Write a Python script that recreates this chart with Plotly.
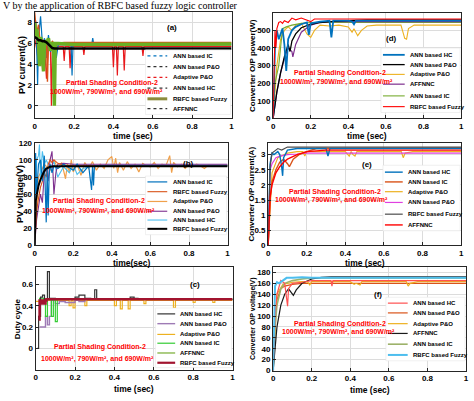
import plotly.graph_objects as go

W, H = 474, 401

# ---------------- DATA ----------------
TIME_TICKS = [0, 0.2, 0.4, 0.6, 0.8, 1]
TIME_TICK_LABELS = ["0", "0.2", "0.4", "0.6", "0.8", "1"]

# (a) PV current (A)
A_HC_T = [0, 0.02, 0.04, 0.06, 0.08, 0.1, 1.0]
A_HC = [7.5, 6.0, 5.2, 5.8, 5.6, 5.75, 5.75]
A_ADP_T = [0, 0.01, 0.02, 0.03, 0.04, 0.05, 0.06, 0.07, 0.08, 0.085, 0.09, 0.1, 0.145, 0.15, 0.155,
           0.175, 0.18, 0.185, 0.245, 0.25, 0.255, 0.395, 0.4, 0.405, 0.415, 0.42, 0.425, 0.45, 0.455,
           0.46, 0.545, 0.55, 0.555, 1.0]
A_ADP = [6.5, 5.5, 4.0, 6.2, 3.5, 5.8, 2.6, 5.7, 5.8, 0.0, 5.7, 5.7, 5.7, 4.3, 5.7,
         5.7, 3.6, 5.7, 5.7, 4.9, 5.7, 5.7, 3.7, 5.7, 5.7, 2.9, 5.7, 5.7, 3.4,
         5.7, 5.7, 4.8, 5.7, 5.7]
A_IC_T = [0, 0.005, 0.01, 0.015, 0.02, 0.03, 0.04, 0.05, 0.06, 0.07, 0.08, 0.1, 0.11, 0.12, 0.185,
          0.19, 0.195, 0.29, 0.295, 0.3, 0.4, 0.6, 0.8, 1.0]
A_IC = [7.0, 8.2, 6.0, 2.0, 6.6, 8.6, 5.8, 6.5, 4.6, 6.8, 5.2, 6.0, 4.6, 5.9, 5.9,
        2.9, 5.9, 5.9, 6.5, 5.9, 5.9, 5.9, 5.9, 5.9]
A_PO_T = [0, 0.01, 0.02, 0.03, 0.04, 0.05, 0.06, 0.065, 0.07, 0.08, 0.09, 0.1, 0.15, 0.3, 0.6, 1.0]
A_PO = [9.0, 7.0, 7.8, 5.5, 6.4, 5.9, 6.2, 2.3, 6.3, 5.9, 6.2, 6.0, 6.1, 6.1, 6.1, 6.1]
A_FZ_T = [0, 0.005, 0.01, 0.02, 0.025, 0.03, 0.04, 0.045, 0.05, 0.06, 0.07, 0.08, 0.09, 0.095,
          0.1, 0.105, 0.12, 0.2, 0.4, 0.55, 0.6, 1.0]
A_FZ = [8.0, 6.6, 7.4, 5.8, 3.8, 6.6, 5.6, 3.3, 6.3, 5.9, 6.5, 5.3, 6.0, 6.0,
        0.0, 6.0, 6.0, 5.9, 5.9, 5.9, 5.95, 5.95]
A_AF_T = [0, 0.01, 0.02, 0.03, 0.04, 0.05, 0.06, 0.07, 0.08, 0.09, 0.1, 1.0]
A_AF = [6.6, 6.5, 6.3, 6.3, 6.2, 6.2, 6.1, 5.9, 5.7, 5.55, 5.5, 5.5]
A_NAMES = ["ANN based IC", "ANN based P&O", "Adaptive P&O", "ANN based HC", "RBFC based Fuzzy", "AFFNNC"]

# (b) PV voltage (V)
B_ADP_T = [0, 0.02, 0.05, 0.08, 0.1, 0.12, 0.14, 0.16, 0.17, 0.18, 0.19, 0.2, 0.22, 0.24, 0.26, 0.28,
           0.3, 0.32, 0.34, 0.36, 0.38, 0.4, 0.41, 0.42, 0.43, 0.44, 0.46, 0.48, 0.5, 0.52, 0.54, 0.56,
           0.58, 0.6, 0.62, 0.64, 0.66, 0.68, 0.7, 0.71, 0.72, 0.74, 0.76, 0.78, 0.8, 0.82, 0.84, 0.86,
           0.88, 0.9, 1.0]
B_ADP = [0, 80, 95, 88, 100, 90, 97, 78, 95, 85, 100, 86, 95, 82, 97, 90,
         98, 88, 95, 90, 100, 104, 90, 102, 85, 97, 88, 98, 90, 95, 86, 96,
         93, 92, 97, 90, 95, 93, 105, 85, 97, 92, 95, 90, 94, 92, 95, 93,
         90, 94, 94]
B_IC_T = [0, 0.005, 0.01, 0.02, 0.03, 0.04, 0.05, 0.055, 0.06, 0.065, 0.07, 0.075, 0.08, 0.09, 0.1,
          0.12, 0.15, 0.2, 0.22, 0.25, 0.28, 0.295, 0.3, 0.305, 0.31, 0.35, 0.5, 1.0]
B_IC = [0, 108, 60, 95, 100, 75, 105, 60, 27, 90, 35, 80, 95, 85, 93,
        90, 95, 88, 95, 85, 93, 65, 93, 70, 93, 93, 93, 93]
B_HC_T = [0, 0.01, 0.02, 0.025, 0.03, 0.04, 0.05, 0.06, 0.08, 0.1, 0.12, 0.15, 0.18, 0.2, 0.22,
          0.25, 0.3, 0.4, 1.0]
B_HC = [0, 100, 105, 118, 80, 110, 95, 100, 90, 98, 80, 92, 85, 95, 83, 90, 93, 94, 94]
B_FZR_T = [0, 0.005, 0.01, 0.02, 0.03, 0.04, 0.05, 0.06, 0.07, 0.08, 0.09, 0.1, 0.12, 0.15, 0.2, 1.0]
B_FZR = [0, 30, 40, 55, 68, 75, 85, 80, 95, 100, 97, 100, 96, 94, 93, 93]
B_PO_T = [0, 0.01, 0.02, 0.03, 0.04, 0.05, 0.06, 0.07, 0.08, 0.09, 0.1, 0.11, 0.12, 0.15, 0.2, 0.3, 1.0]
B_PO = [0, 30, 45, 60, 50, 85, 90, 75, 100, 110, 60, 85, 95, 96, 95, 95, 95]
B_FZK_T = [0, 0.003, 0.006, 0.01, 0.015, 0.02, 0.03, 0.04, 0.05, 0.06, 0.08, 0.1, 0.15, 1.0]
B_FZK = [0, 40, 52, 58, 64, 70, 77, 83, 87, 90, 92, 92.5, 92.5, 92.5]
B_NAMES = ["ANN based IC", "RBFC based Fuzzy", "Adaptive P&O", "ANN based P&O", "ANN based HC", "RBFC based Fuzzy"]

# (c) Duty cycle
C_HC_T = [0.008, 0.015, 0.025, 0.035, 0.045, 0.06, 0.07, 0.08, 0.1, 0.2, 0.22, 0.25, 0.28, 0.3, 0.31,
          0.32, 0.48, 0.5, 0.52, 1.0]
C_HC = [0.0, 0.3, 0.48, 0.50, 0.46, 0.72, 0.47, 0.47, 0.46, 0.48, 0.50, 0.47, 0.46, 0.55, 0.46,
        0.46, 0.48, 0.47, 0.46, 0.46]
C_PO_T = [0.02, 0.03, 0.05, 0.06, 0.07, 0.08, 0.1, 0.12, 0.15, 0.2, 0.22, 0.25, 0.3, 1.0]
C_PO = [0.2, 0.2, 0.3, 0.22, 0.3, 0.45, 0.42, 0.44, 0.43, 0.45, 0.44, 0.46, 0.46, 0.46]
C_ADP_T = [0, 0.02, 0.1, 0.17, 0.18, 0.19, 0.2, 0.25, 0.26, 0.4, 0.41, 0.43, 0.44, 0.47, 0.48, 0.55,
           0.56, 0.7, 0.71, 0.8, 0.81, 0.9, 0.91, 1.0]
C_ADP = [0.44, 0.45, 0.45, 0.40, 0.45, 0.38, 0.45, 0.40, 0.45, 0.40, 0.45, 0.37, 0.45, 0.37, 0.45,
         0.42, 0.45, 0.38, 0.45, 0.43, 0.45, 0.43, 0.45, 0.45]
C_IC_T = [0.015, 0.02, 0.04, 0.05, 0.06, 0.08, 0.09, 0.1, 0.11, 0.12, 1.0]
C_IC = [0.3, 0.47, 0.46, 0.3, 0.46, 0.3, 0.46, 0.25, 0.46, 0.46, 0.46]
C_AF_T = [0.02, 0.05, 0.1, 1.0]
C_AF = [0.45, 0.46, 0.46, 0.46]
C_FZ_T = [0.015, 0.02, 0.025, 0.03, 0.035, 0.04, 0.045, 0.05, 0.055, 1.0]
C_FZ = [0.27, 0.45, 0.42, 0.45, 0.42, 0.45, 0.42, 0.45, 0.46, 0.46]
C_NAMES = ["ANN based HC", "ANN based P&O", "Adaptive P&O", "ANN based IC", "AFFNNC", "RBFC based Fuzzy"]

# (d) Converter O/P power (W)
D_HC_T = [0, 0.01, 0.02, 0.03, 0.05, 0.06, 0.07, 0.08, 0.1, 0.12, 0.15, 0.18, 0.19, 0.2, 0.25, 0.3,
          0.31, 0.32, 0.4, 0.42, 0.43, 0.44, 0.6, 1.0]
D_HC = [0, 400, 500, 450, 510, 420, 270, 450, 500, 520, 535, 545, 475, 540, 550, 555,
        460, 555, 555, 550, 535, 555, 555, 555]
D_PO_T = [0, 0.02, 0.04, 0.06, 0.08, 0.09, 0.1, 0.12, 0.15, 0.2, 0.25, 0.3, 0.4, 0.5, 1.0]
D_PO = [0, 150, 260, 350, 420, 380, 440, 480, 515, 535, 545, 550, 555, 560, 560]
D_ADP_T = [0, 0.02, 0.04, 0.06, 0.08, 0.1, 0.12, 0.15, 0.18, 0.2, 0.22, 0.25, 0.3, 0.35, 0.4, 0.42,
           0.43, 0.45, 0.47, 0.5, 0.55, 0.6, 0.68, 0.7, 0.71, 0.72, 0.75, 0.8, 1.0]
D_ADP = [0, 300, 450, 500, 520, 500, 530, 540, 480, 460, 500, 530, 525, 530, 520, 490,
         510, 470, 500, 525, 530, 530, 530, 455, 450, 510, 530, 530, 530]
D_AF_T = [0, 0.02, 0.04, 0.06, 0.08, 0.1, 0.105, 0.12, 0.15, 0.2, 0.25, 0.3, 1.0]
D_AF = [0, 150, 260, 340, 400, 380, 350, 420, 490, 530, 545, 550, 550]
D_IC_T = [0, 0.01, 0.03, 0.05, 0.07, 0.1, 0.15, 0.2, 1.0]
D_IC = [0, 200, 300, 510, 520, 530, 540, 545, 545]
D_FZ_T = [0, 0.005, 0.01, 0.015, 0.02, 0.03, 0.04, 0.05, 0.06, 0.08, 0.1, 0.12, 0.15, 0.2, 0.22, 0.25, 1.0]
D_FZ = [0, 350, 500, 400, 510, 545, 550, 540, 555, 545, 570, 560, 570, 550, 565, 565, 565]
D_NAMES = ["ANN based HC", "ANN based P&O", "Adaptive P&O", "AFFNNC", "ANN based IC", "RBFC based Fuzzy"]

# (e) Converter O/P current (A)
E_HC_T = [0, 0.005, 0.01, 0.02, 0.03, 0.05, 0.06, 0.07, 0.075, 0.08, 0.1, 0.15, 0.2, 0.3, 0.31, 0.32, 1.0]
E_HC = [0, 2.0, 2.7, 3.05, 3.0, 3.1, 3.0, 2.6, 2.3, 2.9, 3.15, 3.2, 3.2, 3.2, 2.95, 3.2, 3.2]
E_IC_T = [0, 0.01, 0.02, 0.04, 0.06, 0.08, 0.1, 0.11, 0.13, 0.16, 0.2, 0.25, 1.0]
E_IC = [0, 1.5, 2.1, 2.5, 2.75, 2.85, 2.7, 2.6, 2.85, 3.0, 3.1, 3.2, 3.22]
E_ADP_T = [0, 0.02, 0.05, 0.1, 0.15, 0.18, 0.19, 0.2, 0.3, 0.4, 0.42, 0.43, 0.44, 0.45, 0.46, 0.48,
           0.6, 0.69, 0.7, 0.71, 0.75, 1.0]
E_ADP = [0, 2.4, 2.9, 3.05, 3.1, 3.1, 2.95, 3.1, 3.1, 3.1, 2.95, 3.1, 3.0, 2.95, 3.1, 3.1,
         3.1, 3.1, 2.9, 3.05, 3.1, 3.1]
E_PO_T = [0, 0.005, 0.01, 0.02, 0.04, 0.06, 0.1, 0.15, 0.2, 1.0]
E_PO = [0, 2.0, 2.5, 2.7, 2.9, 2.95, 3.0, 3.02, 3.05, 3.05]
E_FZ_T = [0, 0.01, 0.02, 0.03, 0.05, 0.07, 0.1, 0.15, 0.2, 1.0]
E_FZ = [0, 2.6, 3.05, 3.1, 3.2, 3.15, 3.25, 3.25, 3.25, 3.25]
E_AF_T = [0, 0.005, 0.01, 0.02, 0.04, 0.06, 0.08, 0.1, 0.15, 0.2, 0.3, 1.0]
E_AF = [0, 1.0, 1.6, 2.0, 2.4, 2.6, 2.75, 2.85, 3.0, 3.1, 3.15, 3.15]
E_NAMES = ["ANN based HC", "ANN based IC", "Adaptive P&O", "ANN based P&O", "RBFC based Fuzzy", "AFFNNC"]

# (f) Converter O/P voltage (V)
F_HC_T = [0, 0.01, 0.02, 0.03, 0.04, 0.06, 0.07, 0.075, 0.08, 0.1, 0.15, 0.2, 0.3, 0.305, 0.31, 0.32, 1.0]
F_HC = [0, 100, 140, 155, 165, 160, 130, 118, 150, 160, 162, 165, 165, 155, 165, 165, 165]
F_PO_T = [0, 0.01, 0.02, 0.04, 0.06, 0.1, 0.15, 0.2, 1.0]
F_PO = [0, 90, 130, 150, 155, 158, 160, 160, 160]
F_ADP_T = [0, 0.02, 0.05, 0.1, 0.15, 0.18, 0.19, 0.2, 0.3, 0.4, 0.42, 0.43, 0.45, 0.46, 0.5, 0.6,
           0.69, 0.7, 0.71, 0.75, 1.0]
F_ADP = [0, 140, 158, 162, 163, 162, 157, 163, 163, 163, 158, 160, 157, 163, 163, 163,
         163, 155, 160, 163, 163]
F_AF_T = [0, 0.01, 0.02, 0.04, 0.06, 0.08, 0.09, 0.1, 0.105, 0.12, 0.15, 0.2, 0.25, 0.3, 1.0]
F_AF = [0, 40, 80, 120, 140, 150, 145, 140, 138, 148, 160, 168, 171, 172, 172]
F_IC_T = [0, 0.01, 0.02, 0.04, 0.06, 0.1, 0.15, 0.2, 1.0]
F_IC = [0, 80, 120, 150, 160, 165, 168, 170, 170]
F_FZ_T = [0, 0.005, 0.01, 0.02, 0.03, 0.05, 0.07, 0.1, 0.15, 0.2, 1.0]
F_FZ = [0, 120, 155, 162, 160, 165, 170, 170, 171, 170, 170]
F_NAMES = ["ANN based HC", "ANN based P&O", "Adaptive P&O", "AFFNNC", "ANN based IC", "RBFC based Fuzzy"]

Y_LABELS = ["PV current(A)", "PV voltage(V)", "Duty cycle",
            "Converter O/P power(W)", "Converter O/P current(A)", "Converter O/P voltage(V)"]
X_LABELS = ["time (sec)", "time(sec)", "time (sec)", "time (sec)", "time (sec)", "time (sec)"]
PANEL_TAGS = ["(a)", "(b)", "(c)", "(d)", "(e)", "(f)"]
NOTE_LINE1 = "Partial Shading Condition-2"
NOTE_LINE2 = "1000W/m², 790W/m², and 690W/m²"
HEADER = "V by the application of RBFC based fuzzy logic controller"

# ---------------- STYLE / LAYOUT ----------------
BLUE, ORANGE, YELLOW, PURPLE, GREEN, LBLUE, DRED = "#0072BD", "#D95319", "#EDB120", "#7E2F8E", "#77AC30", "#4DBEEE", "#A2142F"

# each panel: list of (name_index, t, y, color, width, shape) in draw order
PANELS = [
    dict(names=A_NAMES, series=[
        (3, A_HC_T, A_HC, "#404040", 1.0, "linear"),
        (2, A_ADP_T, A_ADP, "#E8191C", 1.2, "linear"),
        (0, A_IC_T, A_IC, BLUE, 1.2, "linear"),
        (1, A_PO_T, A_PO, ORANGE, 1.4, "linear"),
        (4, A_FZ_T, A_FZ, "#6AB023", 3.5, "linear"),
        (5, A_AF_T, A_AF, "#000000", 2.5, "linear")],
        legend_dash=["dot", "dot", "dot", "dot", "solid", "dot"],
        legend_cols=[BLUE, "#333333", "#E8191C", "#333333", "#8C8C3C", "#333333"],
        legend_w=[1.2, 1.2, 1.2, 1.2, 3, 1.2]),
    dict(names=B_NAMES, series=[
        (2, B_ADP_T, B_ADP, "#F0A04B", 1.2, "linear"),
        (4, B_HC_T, B_HC, LBLUE, 1.1, "linear"),
        (3, B_PO_T, B_PO, PURPLE, 1.1, "linear"),
        (1, B_FZR_T, B_FZR, ORANGE, 1.1, "linear"),
        (0, B_IC_T, B_IC, BLUE, 1.2, "linear"),
        (5, B_FZK_T, B_FZK, "#000000", 2.0, "linear")]),
    dict(names=C_NAMES, series=[
        (2, C_ADP_T, C_ADP, YELLOW, 1.2, "hv"),
        (1, C_PO_T, C_PO, "#9E7BB5", 1.4, "hv"),
        (4, C_AF_T, C_AF, GREEN, 1.2, "hv"),
        (3, C_IC_T, C_IC, "#33CC33", 1.2, "hv"),
        (0, C_HC_T, C_HC, "#333333", 1.2, "hv"),
        (5, C_FZ_T, C_FZ, DRED, 2.5, "hv")]),
    dict(names=D_NAMES, series=[
        (2, D_ADP_T, D_ADP, YELLOW, 1.1, "linear"),
        (4, D_IC_T, D_IC, GREEN, 1.1, "linear"),
        (3, D_AF_T, D_AF, PURPLE, 1.2, "linear"),
        (1, D_PO_T, D_PO, "#000000", 1.3, "linear"),
        (0, D_HC_T, D_HC, BLUE, 1.8, "linear"),
        (5, D_FZ_T, D_FZ, "#FF0000", 1.1, "linear")]),
    dict(names=E_NAMES, series=[
        (2, E_ADP_T, E_ADP, YELLOW, 1.2, "linear"),
        (3, E_PO_T, E_PO, "#E040E0", 1.2, "linear"),
        (1, E_IC_T, E_IC, ORANGE, 1.4, "linear"),
        (0, E_HC_T, E_HC, BLUE, 1.4, "linear"),
        (4, E_FZ_T, E_FZ, "#4D4D4D", 1.2, "linear"),
        (5, E_AF_T, E_AF, "#FF0000", 1.4, "linear")]),
    dict(names=F_NAMES, series=[
        (1, F_PO_T, F_PO, ORANGE, 1.2, "linear"),
        (2, F_ADP_T, F_ADP, YELLOW, 1.2, "linear"),
        (4, F_IC_T, F_IC, "#9DB26A", 1.6, "linear"),
        (3, F_AF_T, F_AF, "#1A1A1A", 1.2, "linear"),
        (0, F_HC_T, F_HC, "#FF5050", 1.2, "linear"),
        (5, F_FZ_T, F_FZ, LBLUE, 2.0, "linear")]),
]

# plot boxes in pixels: x0, x1, y0(top), y1(bottom)
BOXES = [(33, 232, 8, 117), (33, 228, 142, 247), (34, 233, 269, 374),
         (274, 464, 9, 117), (269, 464, 142, 247), (274, 469, 269, 375)]
Y_RANGES = [[-1.22, 9.04], [0, 120], [-0.2, 0.764], [0, 600], [0, 3.39], [0, 190]]
Y_TICKS = [[0, 2, 4, 6, 8], [0, 20, 40, 60, 80, 100, 120], [0, 0.2, 0.4, 0.6],
           [0, 100, 200, 300, 400, 500], [0, 0.5, 1, 1.5, 2, 2.5, 3],
           [0, 20, 40, 60, 80, 100, 120, 140, 160, 180]]
YT_POS = [(20, 9), (18, 9), (15, 8), (253, 8), (252, 8), (253, 7)]   # x px, font size
XT_POS = [135, 265, 394, 135, 265, 395]
TAG_POS = [(172, 24), (188, 163), (195, 287), (394, 35), (369, 164), (380, 297)]
NOTE_POS = [(111, 81, 106, 90), (98, 202, 98, 212), (99, 351, 97, 363),
            (342, 71, 338, 80), (337, 192, 333, 201), (342, 327, 340, 336)]
LEG = [  # box x0,x1,y0,y1, sample x0,x1, text x, entry ys
    ((145, 231, 47, 113), (147, 167), 171, [53, 64, 75, 86, 97, 107]),
    ((145, 227, 176, 236), (147, 167), 171, [182, 192, 202, 212, 221, 230]),
    ((155, 232, 311, 372), (157, 175), 178, [317, 327, 338, 347, 357, 367]),
    ((383, 463, 45, 111), (385, 407), 410, [52, 62, 72, 82, 94, 105]),
    ((385, 463, 165, 232), (387, 405), 408, [172, 182, 192, 203, 215, 226]),
    ((388, 468, 300, 365), (390, 410), 413, [306, 316, 327, 337, 348, 359]),
]

FONT = "Liberation Sans, Arial, sans-serif"


def px(x):
    return x / W


def py(y):
    return 1 - y / H


fig = go.Figure()
shapes, annots = [], []
layout = {}

for i, panel in enumerate(PANELS):
    k = "" if i == 0 else str(i + 1)
    xa, ya = "x" + k, "y" + k
    x0, x1, y0, y1 = BOXES[i]
    for (ni, t, y, col, w, shp) in panel["series"]:
        fig.add_trace(go.Scatter(x=t, y=y, mode="lines", name=panel["names"][ni],
                                 line=dict(color=col, width=w, shape=shp),
                                 xaxis=xa, yaxis=ya, showlegend=False))
    axis_common = dict(showline=True, mirror=True, linecolor="#262626", linewidth=1,
                       ticks="inside", ticklen=3, tickcolor="#262626",
                       showgrid=True, gridcolor="#DCDCDC", gridwidth=1, zeroline=False,
                       tickfont=dict(family=FONT, size=8, color="#000", weight="bold"))
    layout["xaxis" + k] = dict(domain=[px(x0), px(x1)], anchor=ya, range=[0, 1],
                               tickvals=TIME_TICKS, ticktext=TIME_TICK_LABELS, **axis_common)
    layout["yaxis" + k] = dict(domain=[py(y1), py(y0)], anchor=xa, range=Y_RANGES[i],
                               tickvals=Y_TICKS[i], **axis_common)
    # axis titles
    yx, yfs = YT_POS[i]
    annots.append(dict(xref="paper", yref="paper", x=px(yx), y=py((y0 + y1) / 2), text="<b>%s</b>" % Y_LABELS[i],
                       textangle=-90, showarrow=False, xanchor="center", yanchor="middle",
                       font=dict(family=FONT, size=yfs, color="#000")))
    annots.append(dict(xref="paper", yref="paper", x=px((x0 + x1) / 2), y=py(XT_POS[i]), text="<b>%s</b>" % X_LABELS[i],
                       showarrow=False, xanchor="center", yanchor="middle",
                       font=dict(family=FONT, size=8.5, color="#000")))
    # panel tag
    tx, ty = TAG_POS[i]
    annots.append(dict(xref="paper", yref="paper", x=px(tx), y=py(ty), text="<b>%s</b>" % PANEL_TAGS[i],
                       showarrow=False, xanchor="center", yanchor="middle",
                       font=dict(family=FONT, size=8, color="#000")))
    # red note
    n1x, n1y, n2x, n2y = NOTE_POS[i]
    annots.append(dict(xref="paper", yref="paper", x=px(n1x), y=py(n1y), text="<b>%s</b>" % NOTE_LINE1,
                       showarrow=False, xanchor="center", yanchor="middle",
                       font=dict(family=FONT, size=7, color="#FF0000")))
    annots.append(dict(xref="paper", yref="paper", x=px(n2x), y=py(n2y), text="<b>%s</b>" % NOTE_LINE2,
                       showarrow=False, xanchor="center", yanchor="middle",
                       font=dict(family=FONT, size=7, color="#FF0000")))
    # legend box
    (bx0, bx1, by0, by1), (sx0, sx1), txx, eys = LEG[i]
    shapes.append(dict(type="rect", xref="paper", yref="paper", x0=px(bx0), x1=px(bx1), y0=py(by1), y1=py(by0),
                       fillcolor="white", line=dict(color="#E6E6E6", width=0.6), layer="above"))
    by_name = {s[0]: s for s in panel["series"]}
    for j, name in enumerate(panel["names"]):
        s = by_name[j]
        col = panel.get("legend_cols", [None] * 6)[j] or s[3]
        lw = panel.get("legend_w", [None] * 6)[j] or min(s[4], 2.2)
        dash = panel.get("legend_dash", ["solid"] * 6)[j]
        shapes.append(dict(type="line", xref="paper", yref="paper", x0=px(sx0), x1=px(sx1),
                           y0=py(eys[j]), y1=py(eys[j]), line=dict(color=col, width=lw, dash=dash), layer="above"))
        annots.append(dict(xref="paper", yref="paper", x=px(txx), y=py(eys[j]), text="<b>%s</b>" % name,
                           showarrow=False, xanchor="left", yanchor="middle",
                           font=dict(family=FONT, size=6, color="#000")))

annots.append(dict(xref="paper", yref="paper", x=px(-1), y=py(1.5), text=HEADER,
                   showarrow=False, xanchor="left", yanchor="middle",
                   font=dict(family="Liberation Serif, Times New Roman, serif", size=10, color="#000")))

fig.update_layout(width=W, height=H, margin=dict(l=0, r=0, t=0, b=0),
                  paper_bgcolor="white", plot_bgcolor="white", showlegend=False,
                  shapes=shapes, annotations=annots, **layout)
fig.write_html("out.html", config={"displayModeBar": False},
               post_script="document.body.style.margin='0';document.body.style.padding='0';")
